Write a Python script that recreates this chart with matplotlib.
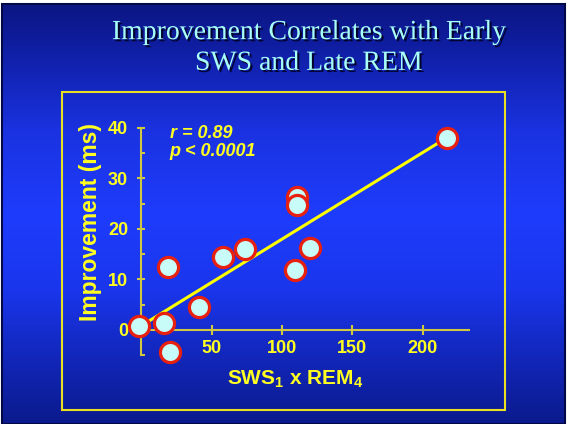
import matplotlib
matplotlib.use("Agg")
import matplotlib.pyplot as plt
import matplotlib.patheffects as pe
from matplotlib.colors import LinearSegmentedColormap
from matplotlib.patches import Rectangle
import numpy as np

# data
sws_rem = [-1.5, 16, 20, 19, 41, 58, 74, 111, 111, 109, 120, 217]
improvement = [0.8, 1.3, -4.4, 12.4, 4.6, 14.5, 16.0, 26.3, 24.7, 11.9, 16.3, 37.9]
fit_slope = 0.171
fit_intercept = 0.86
fit_range = [2.6, 217]
stats_text = "r = 0.89\np < 0.0001"
title = "Improvement Correlates with Early\nSWS and Late REM"
y_ticks = [0, 10, 20, 30, 40]
y_minor = [-5, 5, 15, 25, 35]
x_ticks = [50, 100, 150, 200]

plt.rcParams['font.family'] = ['Liberation Sans', 'DejaVu Sans']
plt.rcParams['mathtext.fontset'] = 'custom'
plt.rcParams['mathtext.rm'] = 'Liberation Sans:bold'
plt.rcParams['mathtext.bf'] = 'Liberation Sans:bold'
plt.rcParams['mathtext.default'] = 'bf'

W, H = 573, 424
fig = plt.figure(figsize=(W / 100, H / 100), dpi=100, facecolor='white')

# slide background: vertical blue gradient
bg = fig.add_axes([2 / W, 0, (565 - 2) / W, (424 - 4) / H])
cmap = LinearSegmentedColormap.from_list('slide', [
    (0.0, '#0b1682'), (0.12, '#1020a8'), (0.3, '#1a32e0'),
    (0.5, '#1e3cfc'), (0.68, '#1a36ec'), (0.85, '#1226b8'), (1.0, '#0b1a8c')])
grad = np.linspace(0, 1, 256).reshape(-1, 1)
bg.imshow(grad, aspect='auto', cmap=cmap, extent=[0, 1, 1, 0])
bg.set_xlim(0, 1)
bg.set_ylim(1, 0)
bg.axis('off')
fig.patches.append(Rectangle((2 / W, 0), (565 - 2) / W, (424 - 4) / H,
                             transform=fig.transFigure, fill=False,
                             edgecolor='#000848', linewidth=1.5, zorder=5))

# yellow box around the chart
fig.patches.append(Rectangle((62 / W, 1 - 409.5 / H), (505 - 62) / W, (409.5 - 92) / H,
                             transform=fig.transFigure, fill=False,
                             edgecolor='#e8e020', linewidth=1.5, zorder=5))

fig.text(309 / W, 1 - 48 / H, title, ha='center', va='center',
         fontsize=20, family='Liberation Serif', color='#a8fff8',
         linespacing=1.3,
         path_effects=[pe.withSimplePatchShadow(offset=(1.5, -1.5),
                                                shadow_rgbFace='#000020', alpha=0.9)])

# x px = 141.4 + 1.406*x ; y px = 330 - 5.06*y
xlim = (-15, 235)
ylim = (-8, 42)
left = (141.4 + 1.406 * xlim[0]) / W
right = (141.4 + 1.406 * xlim[1]) / W
bottom = 1 - (330 - 5.06 * ylim[0]) / H
top = 1 - (330 - 5.06 * ylim[1]) / H
ax = fig.add_axes([left, bottom, right - left, top - bottom])
ax.patch.set_visible(False)
ax.set_xlim(*xlim)
ax.set_ylim(*ylim)

axis_col = '#d0c840'
for s in ['top', 'right']:
    ax.spines[s].set_visible(False)
ax.spines['left'].set_position(('data', 0))
ax.spines['bottom'].set_position(('data', 0))
ax.spines['left'].set_bounds(-5, 40)
ax.spines['bottom'].set_bounds(0, 233)
for s in ['left', 'bottom']:
    ax.spines[s].set_color(axis_col)
    ax.spines[s].set_linewidth(1.5)

ax.set_yticks(y_ticks)
ax.set_yticks(y_minor, minor=True)
ax.set_xticks(x_ticks)
ax.tick_params(axis='y', which='major', direction='inout', length=6, width=1.5,
               color=axis_col, labelcolor='#ffff20', labelsize=13, pad=6.5)
ax.tick_params(axis='y', which='minor', direction='in', length=3, width=1.5,
               color=axis_col)
ax.tick_params(axis='x', which='major', direction='inout', length=6.5, width=1.5,
               color=axis_col, labelcolor='#ffff20', labelsize=13, pad=4)
for lab in ax.get_xticklabels() + ax.get_yticklabels():
    lab.set_fontweight('bold')

fx = np.array(fit_range)
ax.plot(fx, fit_slope * fx + fit_intercept, color='#ffff00', linewidth=2.2,
        solid_capstyle='butt', zorder=3)
ax.plot(sws_rem, improvement, linestyle='none', marker='o', markersize=14.5,
        markerfacecolor='#c8fcf8', markeredgecolor='#e82010',
        markeredgewidth=2.3, zorder=4, clip_on=False)

ax.text(20, 40.6, stats_text, ha='left', va='top', fontsize=13,
        fontweight='bold', style='italic', color='#ffff20', linespacing=1.1)

fig.text(90 / W, 1 - 222 / H, "Improvement (ms)", rotation=90, ha='center',
         va='center', fontsize=16.5, fontweight='bold', color='#ffff20')
fig.text(295 / W, 1 - 379 / H, r"SWS$_1$ x REM$_4$", ha='center', va='center',
         fontsize=15, fontweight='bold', color='#ffff20')

fig.savefig('out.png', dpi=100, facecolor='white')
